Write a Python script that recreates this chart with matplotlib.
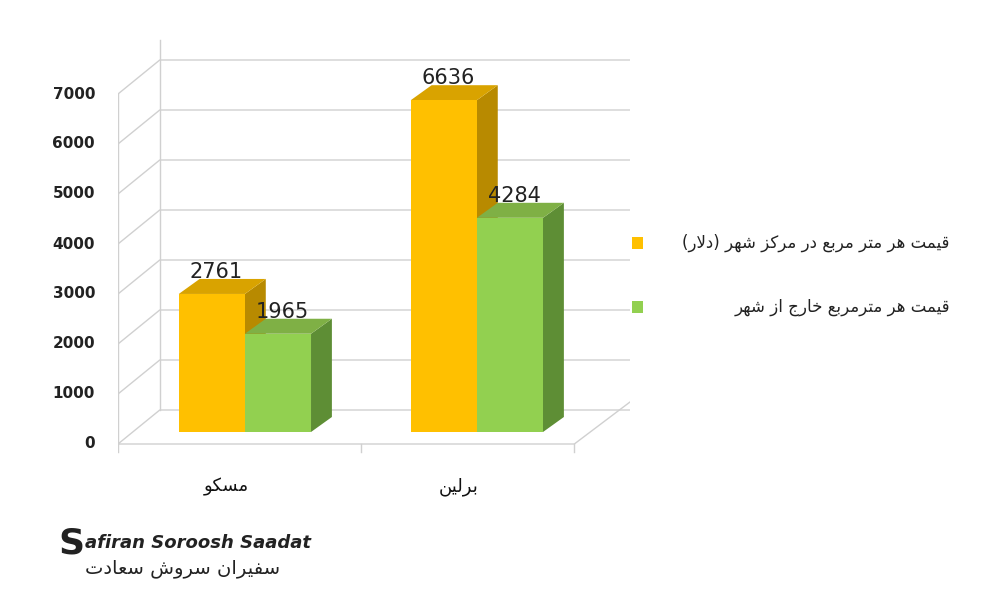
import matplotlib
matplotlib.use("Agg")
import matplotlib.pyplot as plt
from matplotlib.patches import Polygon

categories = ["مسکو", "برلین"]
center_vals = [2761, 6636]
outside_vals = [1965, 4284]
series_names = ["قیمت هر متر مربع در مرکز شهر (دلار)", "قیمت هر مترمربع خارج از شهر"]
yticks = [0, 1000, 2000, 3000, 4000, 5000, 6000, 7000]

FORMS = {
 'ا': ('\uFE8D', '\uFE8E', None, None), 'ب': ('\uFE8F', '\uFE90', '\uFE91', '\uFE92'),
 'ت': ('\uFE95', '\uFE96', '\uFE97', '\uFE98'), 'ج': ('\uFE9D', '\uFE9E', '\uFE9F', '\uFEA0'),
 'خ': ('\uFEA5', '\uFEA6', '\uFEA7', '\uFEA8'), 'د': ('\uFEA9', '\uFEAA', None, None),
 'ر': ('\uFEAD', '\uFEAE', None, None), 'ز': ('\uFEAF', '\uFEB0', None, None),
 'س': ('\uFEB1', '\uFEB2', '\uFEB3', '\uFEB4'), 'ش': ('\uFEB5', '\uFEB6', '\uFEB7', '\uFEB8'),
 'ع': ('\uFEC9', '\uFECA', '\uFECB', '\uFECC'), 'ق': ('\uFED5', '\uFED6', '\uFED7', '\uFED8'),
 'ل': ('\uFEDD', '\uFEDE', '\uFEDF', '\uFEE0'), 'م': ('\uFEE1', '\uFEE2', '\uFEE3', '\uFEE4'),
 'ن': ('\uFEE5', '\uFEE6', '\uFEE7', '\uFEE8'), 'ه': ('\uFEE9', '\uFEEA', '\uFEEB', '\uFEEC'),
 'و': ('\uFEED', '\uFEEE', None, None), 'ی': ('\uFBFC', '\uFBFD', '\uFBFE', '\uFBFF'),
 'ک': ('\uFB8E', '\uFB8F', '\uFB90', '\uFB91'), 'ف': ('\uFED1', '\uFED2', '\uFED3', '\uFED4'),
 'ص': ('\uFEB9', '\uFEBA', '\uFEBB', '\uFEBC'),
}
def shape(s):
    chars = list(s)
    out = []
    i = 0
    while i < len(chars):
        c = chars[i]
        prev = chars[i-1] if i > 0 else None
        pj = prev in FORMS and FORMS[prev][2] is not None
        if c == 'ل' and i + 1 < len(chars) and chars[i+1] == 'ا':
            out.append('\uFEFC' if pj else '\uFEFB'); i += 2; continue
        if c not in FORMS:
            out.append({'(': ')', ')': '('}.get(c, c)); i += 1; continue
        nxt = chars[i+1] if i + 1 < len(chars) else None
        nj = nxt in FORMS and FORMS[c][2] is not None
        iso, fin, ini, med = FORMS[c]
        if pj and nj: out.append(med)
        elif pj: out.append(fin)
        elif nj: out.append(ini)
        else: out.append(iso)
        i += 1
    return ''.join(out[::-1])

FA = ['DejaVu Sans']

fig = plt.figure(figsize=(10, 6), dpi=100)
ax = fig.add_axes([0.118, 0.0, 0.512, 0.95])
ax.set_xlim(-0.547, 1.66)
ax.set_ylim(-3120, 8280)
ax.axis('off')

x0, x1 = -0.547, 1.66
bdx, bdy = 0.18, 680
gc = '#d0d0d0'
for v in yticks:
    ax.plot([x0, x0 + bdx, x1], [v, v + bdy, v + bdy], color=gc, lw=1, zorder=1)
    fig.text(0.095, 1 - (444 - v * 0.05) / 600, f"{v}", ha='right', va='center',
             fontsize=11, fontweight='bold', color='#222')
ax.plot([x0 + bdx, x0 + bdx], [bdy, 7000 + bdy + 400], color=gc, lw=1, zorder=1)
ax.plot([x0, x0], [0, 7000], color=gc, lw=1, zorder=1)
fx = 1.42
ax.plot([x0, fx, fx + 0.24], [0, 0, 840], color=gc, lw=1, zorder=1)
for t in [x0, 0.5, fx]:
    ax.plot([t, t], [0, -160], color=gc, lw=1)

w = 0.285
ddx, ddy = 0.09, 300
base = 240
cols = [('#FFC000', '#D9A300', '#B88A00'), ('#92D050', '#7FB045', '#5E8E35')]
for i in range(len(categories)):
    for k, vals in enumerate([center_vals, outside_vals]):
        v = vals[i]
        top_y = v + base
        l = i - w + k * w
        r = l + w
        front, top, side = cols[k]
        z = 3 + k
        ax.add_patch(Polygon([(r, base), (r + ddx, base + ddy), (r + ddx, top_y + ddy), (r, top_y)],
                             fc=side, ec='none', zorder=z))
        ax.add_patch(Polygon([(l, top_y), (l + ddx, top_y + ddy), (r + ddx, top_y + ddy), (r, top_y)],
                             fc=top, ec='none', zorder=z))
        ax.add_patch(Polygon([(l, base), (r, base), (r, top_y), (l, top_y)], fc=front, ec='none', zorder=z))
        ax.text((l + r) / 2 + 0.02, top_y + ddy - 60, f"{v}", ha='center', va='bottom',
                fontsize=15, color='#222', zorder=10)
    ax.text(i - 0.08, -860, shape(categories[i]), ha='center', va='center',
            fontsize=13, family=FA, color='#111')

for k, (name, yy) in enumerate(zip(series_names, [243, 307])):
    fig.patches.append(plt.Rectangle((0.632, 1 - (yy + 6) / 600), 0.011, 0.02,
                                     transform=fig.transFigure, fc=cols[k][0], ec='none'))
    fig.text(0.95, 1 - yy / 600, shape(name), ha='right', va='center',
             fontsize=12, family=FA, color='#222')

fig.text(0.058, 1 - 543 / 600, "S", fontsize=26, color='#222', va='center', fontweight='bold')
fig.text(0.085, 1 - 543 / 600, "afiran Soroosh Saadat", fontsize=13, fontweight='bold',
         style='italic', color='#222', va='center')
fig.text(0.28, 1 - 568 / 600, shape("سفیران سروش سعادت"), fontsize=14,
         family=FA, color='#222', va='center', ha='right')

fig.savefig("out.png", dpi=100, facecolor='white')
